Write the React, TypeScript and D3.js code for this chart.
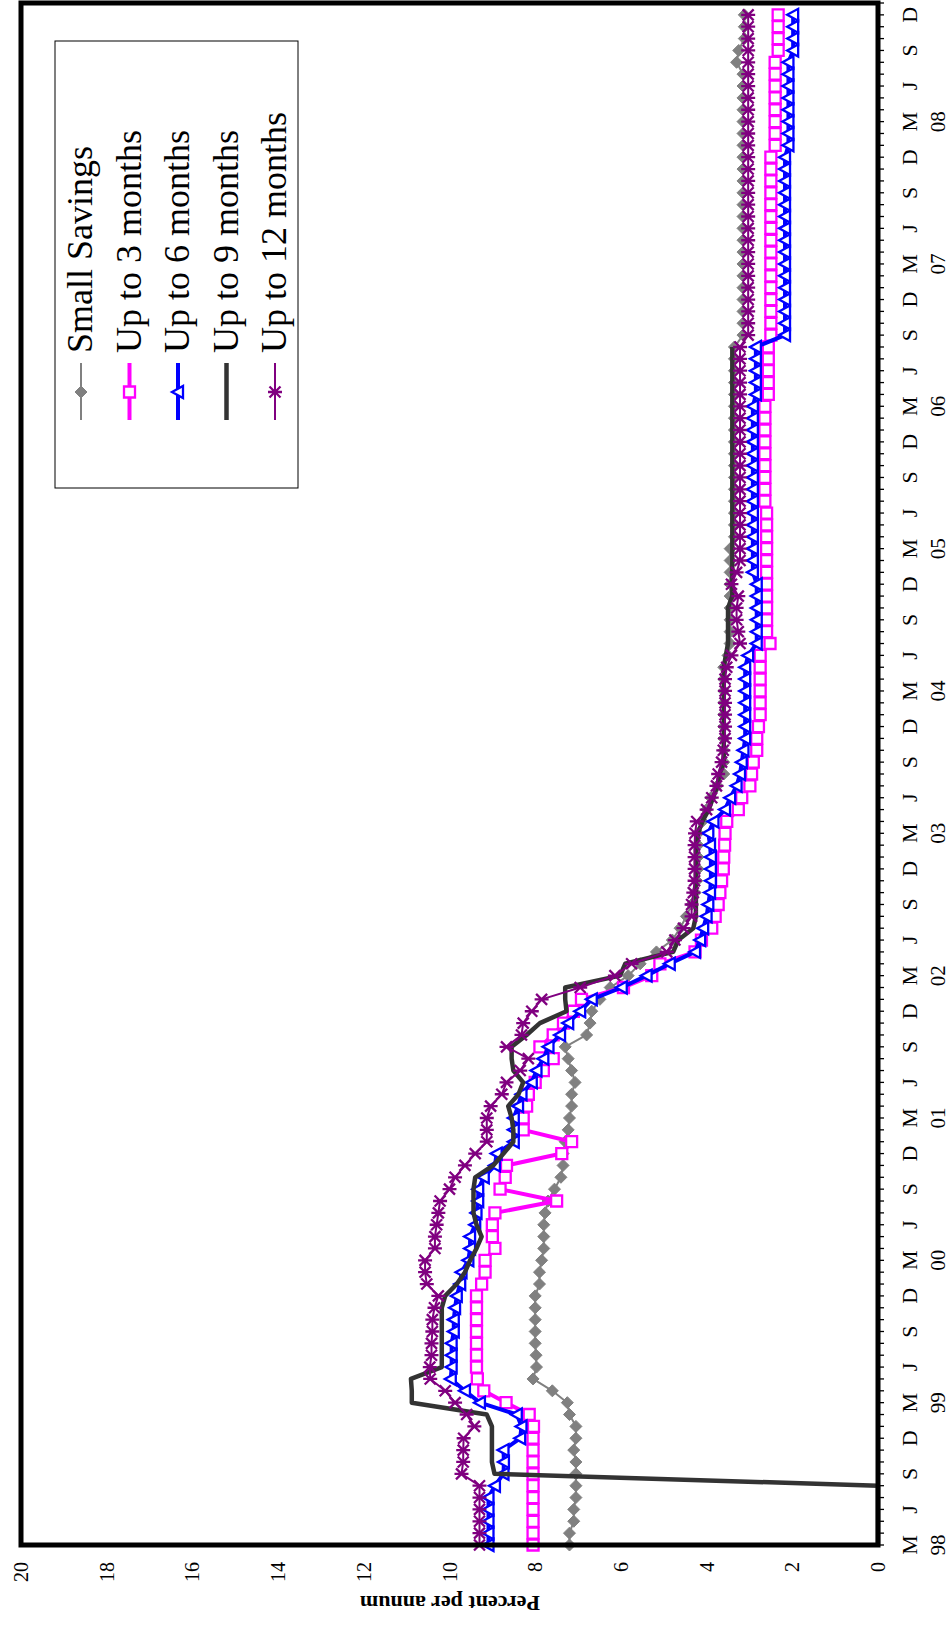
import React from 'react';
import * as d3 from 'd3';

// month letters shown every quarter, year shown under each March
const monthLetters = ['M', 'J', 'S', 'D'];
const yearLabels = ['98', '99', '00', '01', '02', '03', '04', '05', '06', '07', '08'];
const valueTicks = [0, 2, 4, 6, 8, 10, 12, 14, 16, 18, 20];

// monthly values, Mar 1998 .. Dec 2008
const smallSavings = [
  7.2, 7.2, 7.1, 7.1, 7.05, 7.05, 7.05, 7.05, 7.1, 7.05,
  7.05, 7.2, 7.25, 7.6, 8.05, 7.97, 7.98, 8.0, 8.0, 8.0,
  8.0, 8.0, 7.9, 7.9, 7.85, 7.8, 7.8, 7.8, 7.77, 7.7,
  7.55, 7.4, 7.35, 7.35, 7.3, 7.23, 7.2, 7.15, 7.15, 7.07,
  7.15, 7.23, 7.3, 6.8, 6.72, 6.68, 6.49, 6.25, 5.83, 5.55,
  5.17, 4.8, 4.62, 4.47, 4.35, 4.27, 4.23, 4.2, 4.2, 4.2,
  4.2, 4.1, 4.0, 3.9, 3.75, 3.6, 3.6, 3.6, 3.6, 3.6,
  3.6, 3.6, 3.6, 3.6, 3.6, 3.5, 3.45, 3.45, 3.45, 3.45,
  3.45, 3.45, 3.45, 3.45, 3.45, 3.35, 3.35, 3.35, 3.35, 3.35,
  3.35, 3.35, 3.35, 3.35, 3.35, 3.35, 3.35, 3.35, 3.35, 3.35,
  3.35, 3.35, 3.15, 3.15, 3.15, 3.15, 3.15, 3.15, 3.15, 3.15,
  3.15, 3.15, 3.15, 3.15, 3.15, 3.15, 3.15, 3.15, 3.15, 3.15,
  3.15, 3.15, 3.15, 3.15, 3.15, 3.3, 3.25, 3.12, 3.12, 3.12,
];

const upTo3 = [
  8.05, 8.05, 8.05, 8.05, 8.05, 8.05, 8.05, 8.05, 8.05, 8.05,
  8.04, 8.14, 8.68, 9.2, 9.35, 9.37, 9.37, 9.37, 9.37, 9.37,
  9.37, 9.37, 9.25, 9.17, 9.17, 8.94, 9.0, 9.0, 8.94, 7.5,
  8.82, 8.7, 8.67, 7.38, 7.15, 8.28, 8.28, 8.2, 8.16, 8.0,
  7.81, 7.58, 7.89, 7.58, 7.34, 7.11, 6.92, 5.94, 5.28, 5.09,
  4.27, 4.12, 3.88, 3.8, 3.73, 3.69, 3.65, 3.61, 3.6, 3.58,
  3.57, 3.53, 3.26, 3.18, 2.99, 2.95, 2.91, 2.83, 2.83, 2.79,
  2.75, 2.75, 2.75, 2.75, 2.75, 2.75, 2.52, 2.6, 2.6, 2.6,
  2.6, 2.6, 2.6, 2.6, 2.6, 2.6, 2.6, 2.6, 2.64, 2.64,
  2.64, 2.64, 2.64, 2.64, 2.64, 2.64, 2.64, 2.56, 2.56, 2.56,
  2.56, 2.56, 2.5, 2.5, 2.5, 2.5, 2.5, 2.5, 2.5, 2.5,
  2.5, 2.5, 2.5, 2.5, 2.5, 2.5, 2.5, 2.5, 2.4, 2.4,
  2.4, 2.4, 2.4, 2.4, 2.4, 2.4, 2.33, 2.33, 2.33, 2.33,
];

const upTo6 = [
  9.09, 9.09, 9.09, 9.09, 9.09, 8.94, 8.74, 8.73, 8.74, 8.35,
  8.32, 8.43, 9.29, 9.64, 9.97, 9.95, 9.95, 9.95, 9.9, 9.9,
  9.87, 9.83, 9.75, 9.72, 9.56, 9.52, 9.52, 9.4, 9.37, 9.33,
  9.33, 9.2, 8.94, 8.9, 8.5, 8.5, 8.5, 8.4, 8.32, 8.08,
  7.97, 7.81, 7.69, 7.42, 7.23, 6.95, 6.68, 5.98, 5.4, 4.86,
  4.27, 4.15, 4.08, 4.0, 3.96, 3.92, 3.9, 3.9, 3.9, 3.92,
  3.96, 3.84, 3.57, 3.45, 3.3, 3.22, 3.18, 3.14, 3.1, 3.1,
  3.1, 3.1, 3.1, 3.1, 3.1, 3.03, 2.83, 2.83, 2.83, 2.83,
  2.83, 2.83, 2.92, 2.92, 2.92, 2.92, 2.92, 2.92, 2.92, 2.92,
  2.92, 2.92, 2.92, 2.92, 2.92, 2.92, 2.92, 2.85, 2.85, 2.85,
  2.85, 2.85, 2.17, 2.17, 2.17, 2.17, 2.17, 2.17, 2.17, 2.17,
  2.17, 2.17, 2.17, 2.17, 2.17, 2.17, 2.17, 2.17, 2.09, 2.09,
  2.09, 2.09, 2.09, 2.09, 2.09, 2.09, 1.98, 1.98, 1.98, 1.98,
];

// series stops after Aug 2006
const upTo9 = [
  0, 0, 0, 0, 0, 0, 8.95, 9.01, 9.01, 9.01,
  9.01, 9.13, 10.88, 10.88, 10.9, 10.18, 10.18, 10.18, 10.18, 10.18,
  10.18, 10.1, 9.83, 9.64, 9.52, 9.37, 9.25, 9.37, 9.44, 9.44,
  9.44, 9.4, 8.98, 8.74, 8.51, 8.51, 8.55, 8.63, 8.39, 8.28,
  8.51, 8.55, 8.55, 8.2, 7.89, 7.27, 7.3, 7.3, 6.02, 5.9,
  4.78, 4.66, 4.31, 4.25, 4.25, 4.25, 4.25, 4.25, 4.25, 4.25,
  4.2, 4.1, 3.95, 3.85, 3.75, 3.7, 3.6, 3.6, 3.6, 3.6,
  3.6, 3.6, 3.6, 3.6, 3.6, 3.55, 3.5, 3.5, 3.5, 3.5,
  3.4, 3.4, 3.4, 3.4, 3.4, 3.4, 3.4, 3.4, 3.4, 3.4,
  3.4, 3.4, 3.4, 3.4, 3.4, 3.4, 3.4, 3.4, 3.4, 3.4,
  3.4, 3.4,
];

const upTo12 = [
  9.3, 9.3, 9.3, 9.3, 9.3, 9.3, 9.72, 9.68, 9.68, 9.67,
  9.42, 9.6, 9.87, 10.1, 10.45, 10.46, 10.42, 10.42, 10.4, 10.4,
  10.35, 10.26, 10.53, 10.57, 10.57, 10.34, 10.34, 10.3, 10.26, 10.22,
  10.0, 9.87, 9.64, 9.4, 9.13, 9.13, 9.13, 9.04, 8.78, 8.67,
  8.35, 8.16, 8.67, 8.32, 8.28, 8.08, 7.85, 6.95, 6.14, 5.75,
  4.93, 4.74, 4.54, 4.35, 4.35, 4.31, 4.28, 4.28, 4.28, 4.28,
  4.27, 4.23, 4.0, 3.88, 3.77, 3.73, 3.65, 3.61, 3.57, 3.57,
  3.57, 3.57, 3.57, 3.57, 3.53, 3.42, 3.22, 3.26, 3.3, 3.3,
  3.26, 3.42, 3.3, 3.22, 3.22, 3.22, 3.22, 3.22, 3.22, 3.22,
  3.22, 3.22, 3.22, 3.22, 3.22, 3.22, 3.22, 3.22, 3.22, 3.22,
  3.22, 3.22, 3.03, 3.03, 3.03, 3.03, 3.03, 3.03, 3.03, 3.03,
  3.03, 3.03, 3.03, 3.03, 3.03, 3.03, 3.03, 3.03, 3.03, 3.03,
  3.03, 3.03, 3.03, 3.03, 3.03, 3.03, 3.03, 3.03, 3.03, 3.03,
];

const W = 951;
const H = 1625;
const FONT = '"Liberation Serif", "Times New Roman", serif';

// marker shapes (Excel style)
const diamond = 'M0,-6L6,0L0,6L-6,0Z';
const square = 'M-5.5,-5.5H5.5V5.5H-5.5Z';
const triangle = 'M0,-6L6,5L-6,5Z';
const star = 'M-5.5,-5.5L5.5,5.5M-5.5,5.5L5.5,-5.5M0,-7V7';

const series = [
  { name: 'Small Savings', data: smallSavings, color: '#808080', width: 2, marker: diamond, fill: '#808080', mw: 1 },
  { name: 'Up to 3 months', data: upTo3, color: '#FF00FF', width: 4, marker: square, fill: '#fff', mw: 2.3 },
  { name: 'Up to 6 months', data: upTo6, color: '#0000FF', width: 4, marker: triangle, fill: '#fff', mw: 2.3 },
  { name: 'Up to 9 months', data: upTo9, color: '#333333', width: 4.5, marker: null, fill: 'none', mw: 0 },
  { name: 'Up to 12 months', data: upTo12, color: '#800080', width: 2, marker: star, fill: 'none', mw: 2.3 },
];

export default function App() {
  // drawn upright, then the whole chart is turned a quarter to the left
  const x = d3.scaleLinear().domain([0, 130]).range([80, 1622]);
  const y = d3.scaleLinear().domain([0, 20]).range([878, 21]);
  const line = d3.line<number>().x((d, i) => x(i)).y(d => y(d));

  const months = d3.range(0, 131);

  return (
    <svg width={W} height={H} style={{ position: 'absolute', left: 0, top: 0, background: '#fff' }}>
      <g transform={`translate(0,${H}) rotate(-90)`} fontFamily={FONT}>
        {/* month ticks */}
        {months.map(i => (
          <line key={'t' + i} x1={x(i)} x2={x(i)} y1={878} y2={884} stroke="#000" strokeWidth={1.3} />
        ))}
        {months.filter(i => i % 3 === 0 && i < 130).map(i => (
          <text key={'m' + i} x={x(i)} y={909} textAnchor="middle" dominantBaseline="central" fontSize={22}>
            {monthLetters[(i / 3) % 4]}
          </text>
        ))}
        {months.filter(i => i % 12 === 0 && i < 130).map(i => (
          <text key={'y' + i} x={x(i)} y={938} textAnchor="middle" dominantBaseline="central" fontSize={21}>
            {yearLabels[i / 12]}
          </text>
        ))}

        {/* value axis labels */}
        {valueTicks.map(v => (
          <text key={'v' + v} x={63} y={y(v)} textAnchor="end" dominantBaseline="central" fontSize={20}>
            {v}
          </text>
        ))}
        <text transform={`translate(22,450) rotate(-90)`} textAnchor="middle" dominantBaseline="central"
          fontSize={22} fontWeight="bold">
          Percent per annum
        </text>

        {/* series */}
        {series.map(s => (
          <g key={s.name}>
            <path d={line(s.data) || ''} fill="none" stroke={s.color} strokeWidth={s.width} strokeLinejoin="round" />
            {s.marker && s.data.map((d, i) => (
              <path key={i} d={s.marker as string} transform={`translate(${x(i)},${y(d)})`}
                fill={s.fill} stroke={s.color} strokeWidth={s.mw} />
            ))}
          </g>
        ))}

        {/* frame */}
        <rect x={80} y={21} width={1622 - 80} height={878 - 21} fill="none" stroke="#000" strokeWidth={5} />

        {/* legend */}
        <g>
          <rect x={1137} y={55} width={1584 - 1137} height={298 - 55} fill="#fff" stroke="#000" strokeWidth={1} />
          {series.map((s, k) => {
            const cy = 81 + k * 48.5;
            return (
              <g key={'l' + k}>
                <line x1={1205} x2={1262} y1={cy} y2={cy} stroke={s.color} strokeWidth={s.width} />
                {s.marker && (
                  <path d={s.marker} transform={`translate(1233,${cy})`} fill={s.fill} stroke={s.color} strokeWidth={s.mw} />
                )}
                <text x={1272} y={cy + 11} fontSize={36}>{s.name}</text>
              </g>
            );
          })}
        </g>
      </g>
    </svg>
  );
}
